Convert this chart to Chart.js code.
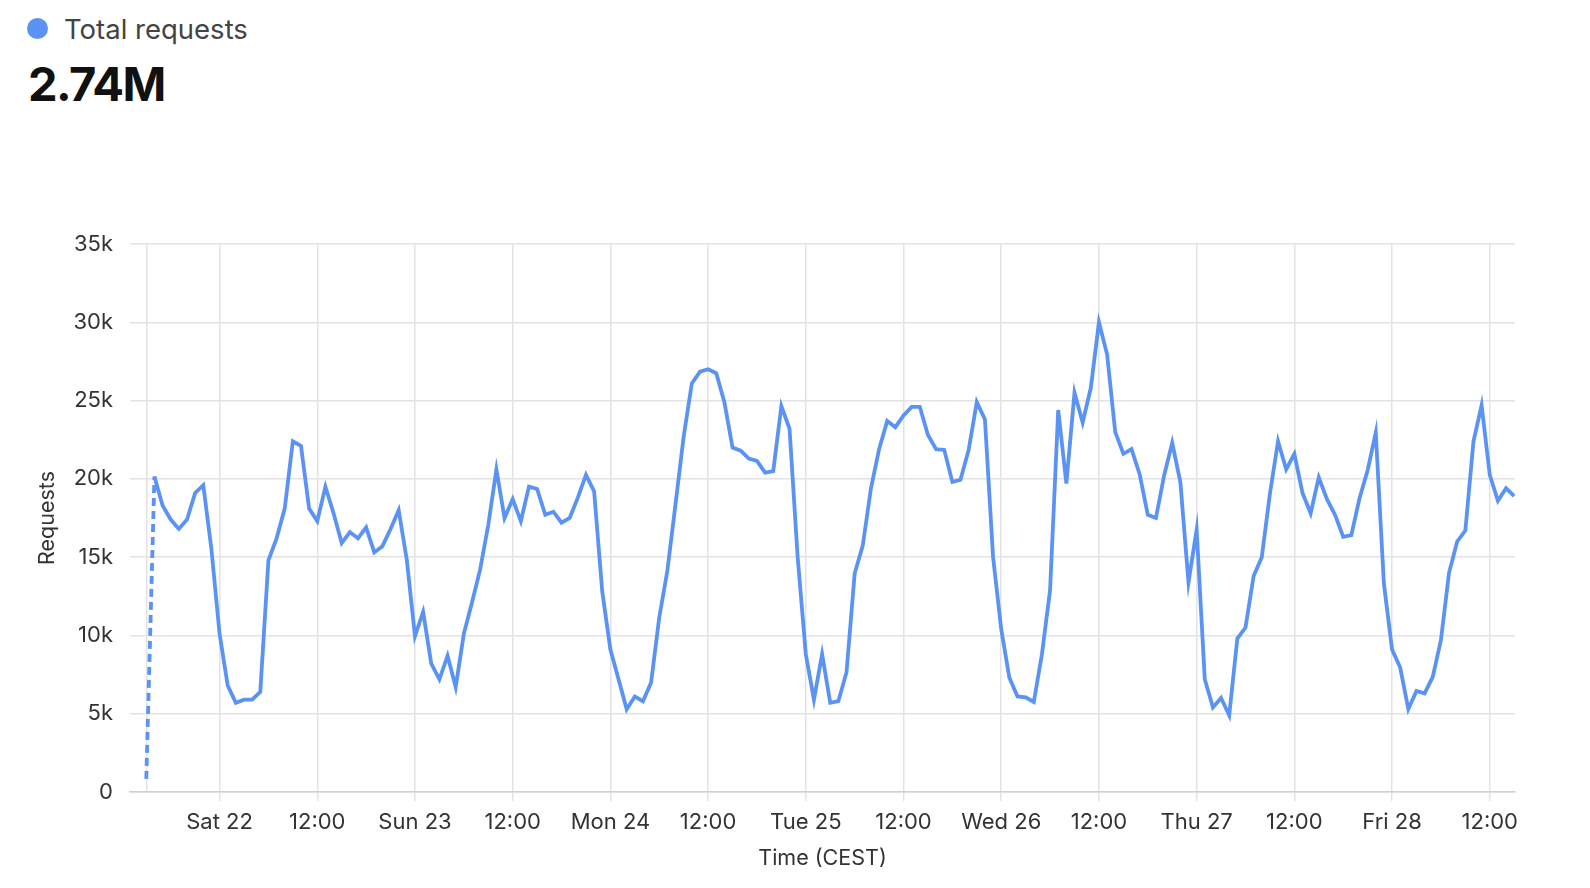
<!DOCTYPE html>
<html>
<head>
<meta charset="utf-8">
<script src="https://cdn.jsdelivr.net/npm/chart.js@4/dist/chart.umd.min.js"></script>
<style>
  html, body { margin: 0; padding: 0; background: #fff; }
  body { width: 1590px; height: 888px; position: relative; overflow: hidden; font-family: Inter, sans-serif; }
  #legend { position: absolute; left: 27px; top: 11px; height: 35px; display: flex; align-items: center; font-size: 27.5px; color: #444; }
  #legend .dot { width: 21px; height: 21px; border-radius: 50%; background: #5b93f4; margin-right: 16px; }
  #total { position: absolute; left: 28px; top: 55px; font-size: 47px; font-weight: 700; color: #111; letter-spacing: -1.5px; }
  #chart { position: absolute; left: 0; top: 0; }
</style>
</head>
<body>
<div id="legend"><span class="dot"></span>Total requests</div>
<div id="total">2.74M</div>
<canvas id="chart" width="1590" height="888"></canvas>
<script>
'use strict'

// hourly buckets, hour 0 = Sat 22 00:00 (CEST); first bucket is Fri 21 15:00
var firstHour = -9

var requests = [
  840, 20150, 18300, 17400, 16800, 17400, 19100, 19600, 15500,
  10100, 6800, 5700, 5900, 5900, 6400, 14800, 16200, 18100, 22400, 22100, 18100,
  17300, 19500, 17800, 15900, 16600, 16200, 16900, 15300, 15700, 16800, 18000, 14800,
  9950, 11500, 8200, 7200, 8700, 6700, 10100, 12100, 14200, 17050, 20600, 17500,
  18700, 17300, 19500, 19350, 17700, 17900, 17200, 17500, 18800, 20250, 19200, 12800,
  9100, 7200, 5280, 6100, 5800, 7000, 11150, 14150, 18400, 22700, 26100, 26850,
  27000, 26750, 24900, 22000, 21800, 21300, 21150, 20400, 20500, 24650, 23200, 15000,
  8800, 5900, 8800, 5700, 5800, 7650, 13950, 15750, 19400, 21900, 23700, 23300,
  24050, 24600, 24600, 22800, 21900, 21850, 19800, 19950, 21850, 24900, 23800, 15000,
  10400, 7300, 6100, 6050, 5750, 8800, 12900, 24400, 19700, 25500, 23600, 25800,
  30000, 27950, 23000, 21600, 21900, 20300, 17700, 17500, 20200, 22300, 19800, 13400,
  16750, 7200, 5400, 6000, 4900, 9800, 10500, 13800, 15000, 19050, 22400, 20600,
  21600, 19100, 17800, 20100, 18700, 17700, 16300, 16400, 18750, 20550, 22950, 13300,
  9100, 7950, 5300, 6450, 6300, 7350, 9700, 14000, 16000, 16700, 22400, 24700,
  20250, 18600, 19400, 18900
]

var tickHours = [-9, 0, 12, 24, 36, 48, 60, 72, 84, 96, 108, 120, 132, 144, 156]
var tickLabels = ['', 'Sat 22', '12:00', 'Sun 23', '12:00', 'Mon 24', '12:00', 'Tue 25',
  '12:00', 'Wed 26', '12:00', 'Thu 27', '12:00', 'Fri 28', '12:00']

var yTicks = [0, 5000, 10000, 15000, 20000, 25000, 30000, 35000]
var yTickLabels = ['0', '5k', '10k', '15k', '20k', '25k', '30k', '35k']

var lineColor = '#5b93f4'
var gridColor = '#e3e3e3'
var textColor = '#333'

var points = requests.map(function (v, i) {
  return { x: firstHour + i, y: v }
})

var tickFont = { family: 'Inter', size: 22 }
var titleFont = { family: 'Inter', size: 21.5 }

new Chart(document.getElementById('chart'), {
  type: 'line',
  data: {
    datasets: [{
      label: 'Total requests',
      data: points,
      borderColor: lineColor,
      borderWidth: 3.8,
      pointRadius: 0,
      tension: 0,
      fill: false,
      segment: {
        // first bucket is partial, drawn dashed
        borderDash: function (ctx) { return ctx.p0DataIndex === 0 ? [8, 5] : undefined }
      }
    }]
  },
  options: {
    responsive: false,
    animation: false,
    devicePixelRatio: 1,
    layout: { padding: { top: 244, left: 31, right: 75, bottom: 0 } },
    plugins: { legend: { display: false }, tooltip: { enabled: false } },
    scales: {
      x: {
        type: 'linear',
        min: -11,
        max: 159.1,
        afterBuildTicks: function (scale) {
          scale.ticks = tickHours.map(function (h) { return { value: h } })
        },
        afterFit: function (scale) { scale.height = 96 },
        ticks: {
          autoSkip: false,
          maxRotation: 0,
          padding: 8,
          color: textColor,
          font: tickFont,
          callback: function (value) {
            var i = tickHours.indexOf(value)
            return i >= 0 ? tickLabels[i] : ''
          }
        },
        grid: {
          color: gridColor,
          lineWidth: 1.5,
          tickLength: 9,
          tickColor: function (ctx) {
            return ctx.tick && ctx.tick.value === firstHour ? 'rgba(0,0,0,0)' : gridColor
          }
        },
        border: { color: '#cfcfcf', width: 1.5 },
        title: {
          display: true,
          text: 'Time (CEST)',
          color: textColor,
          font: titleFont,
          padding: { top: 4, bottom: 17 }
        }
      },
      y: {
        min: 0,
        max: 35000,
        afterBuildTicks: function (scale) {
          scale.ticks = yTicks.map(function (v) { return { value: v } })
        },
        afterFit: function (scale) { scale.width = 99 },
        ticks: {
          padding: 17,
          color: textColor,
          font: tickFont,
          callback: function (value) {
            var i = yTicks.indexOf(value)
            return i >= 0 ? yTickLabels[i] : ''
          }
        },
        grid: { color: gridColor, lineWidth: 1.5, drawTicks: false },
        border: { display: false },
        title: {
          display: true,
          text: 'Requests',
          color: textColor,
          font: titleFont,
          padding: { top: 4, bottom: 4 }
        }
      }
    }
  }
})
</script>
</body>
</html>
